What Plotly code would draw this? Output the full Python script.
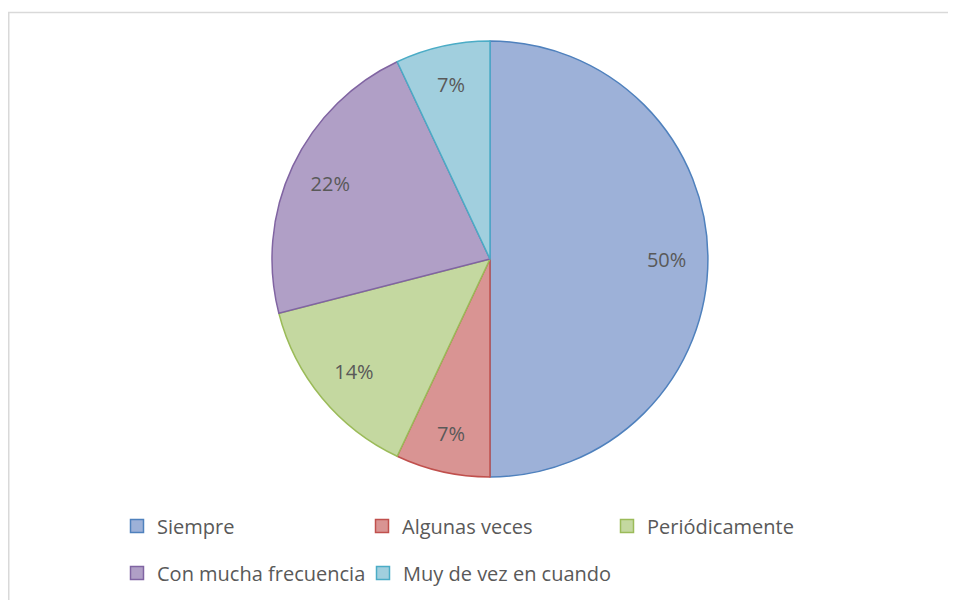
import plotly.graph_objects as go

labels = ["Siempre", "Algunas veces", "Periódicamente", "Con mucha frecuencia", "Muy de vez en cuando"]
values = [50, 7, 14, 22, 7]
fill_colors = ["#9DB1D8", "#D99493", "#C4D8A0", "#B09FC6", "#A1CFDE"]
line_colors = ["#4F81BD", "#C0504D", "#9BBB59", "#8064A2", "#4BACC6"]
legend_ids = ["legend", "legend2", "legend3", "legend4", "legend5"]

# the page places the figure 8px in from the top-left corner
W, H = 948, 592
cx, cy, r = 482, 251, 218
domain = dict(x=[(cx - r) / W, (cx + r) / W], y=[(H - cy - r) / H, (H - cy + r) / H])

# legend grid (figure pixels): column left edges, row centres
legend_x = [109, 354, 599, 109, 355]
legend_y = [518, 518, 518, 565, 565]

fig = go.Figure()

# coloured pie
fig.add_trace(go.Pie(
    labels=labels, values=values, sort=False, direction="clockwise", rotation=0,
    marker=dict(colors=fill_colors, line=dict(color=line_colors, width=1.5)),
    textinfo="none", domain=domain, showlegend=False,
    hoverinfo="label+percent",
))

# label layer: same data, transparent ring so labels sit toward the rim
fig.add_trace(go.Pie(
    labels=labels, values=values, sort=False, direction="clockwise", rotation=0,
    hole=0.62,
    marker=dict(colors=["rgba(0,0,0,0)"] * len(values), line=dict(width=0)),
    texttemplate="%{percent:.0%}", textposition="inside",
    insidetextorientation="horizontal",
    textfont=dict(family="Open Sans", size=20, color="#595959"),
    domain=domain, showlegend=False, hoverinfo="skip",
))

# legend entries
for lab, fc, lc, lg in zip(labels, fill_colors, line_colors, legend_ids):
    fig.add_trace(go.Scatter(
        x=[None], y=[None], mode="markers", name=lab, legend=lg,
        marker=dict(symbol="square", size=13, color=fc, line=dict(color=lc, width=1.5)),
    ))

legend_common = dict(
    orientation="h", xanchor="left", yanchor="middle",
    font=dict(family="Open Sans", size=20, color="#595959"),
    itemwidth=30, bgcolor="rgba(0,0,0,0)",
)
legends = {lg: dict(x=lx / W, y=(H - ly) / H, **legend_common)
           for lg, lx, ly in zip(legend_ids, legend_x, legend_y)}

fig.update_layout(
    width=W, height=H,
    margin=dict(l=0, r=0, t=0, b=0),
    paper_bgcolor="white", plot_bgcolor="white",
    xaxis=dict(visible=False), yaxis=dict(visible=False),
    shapes=[dict(type="rect", xref="paper", yref="paper",
                 x0=0.75 / W, x1=1.05, y0=-0.05, y1=(H - 4.5) / H,
                 line=dict(color="#D9D9D9", width=1.5), fillcolor="rgba(0,0,0,0)")],
    **legends,
)

fig.write_html("out.html")
